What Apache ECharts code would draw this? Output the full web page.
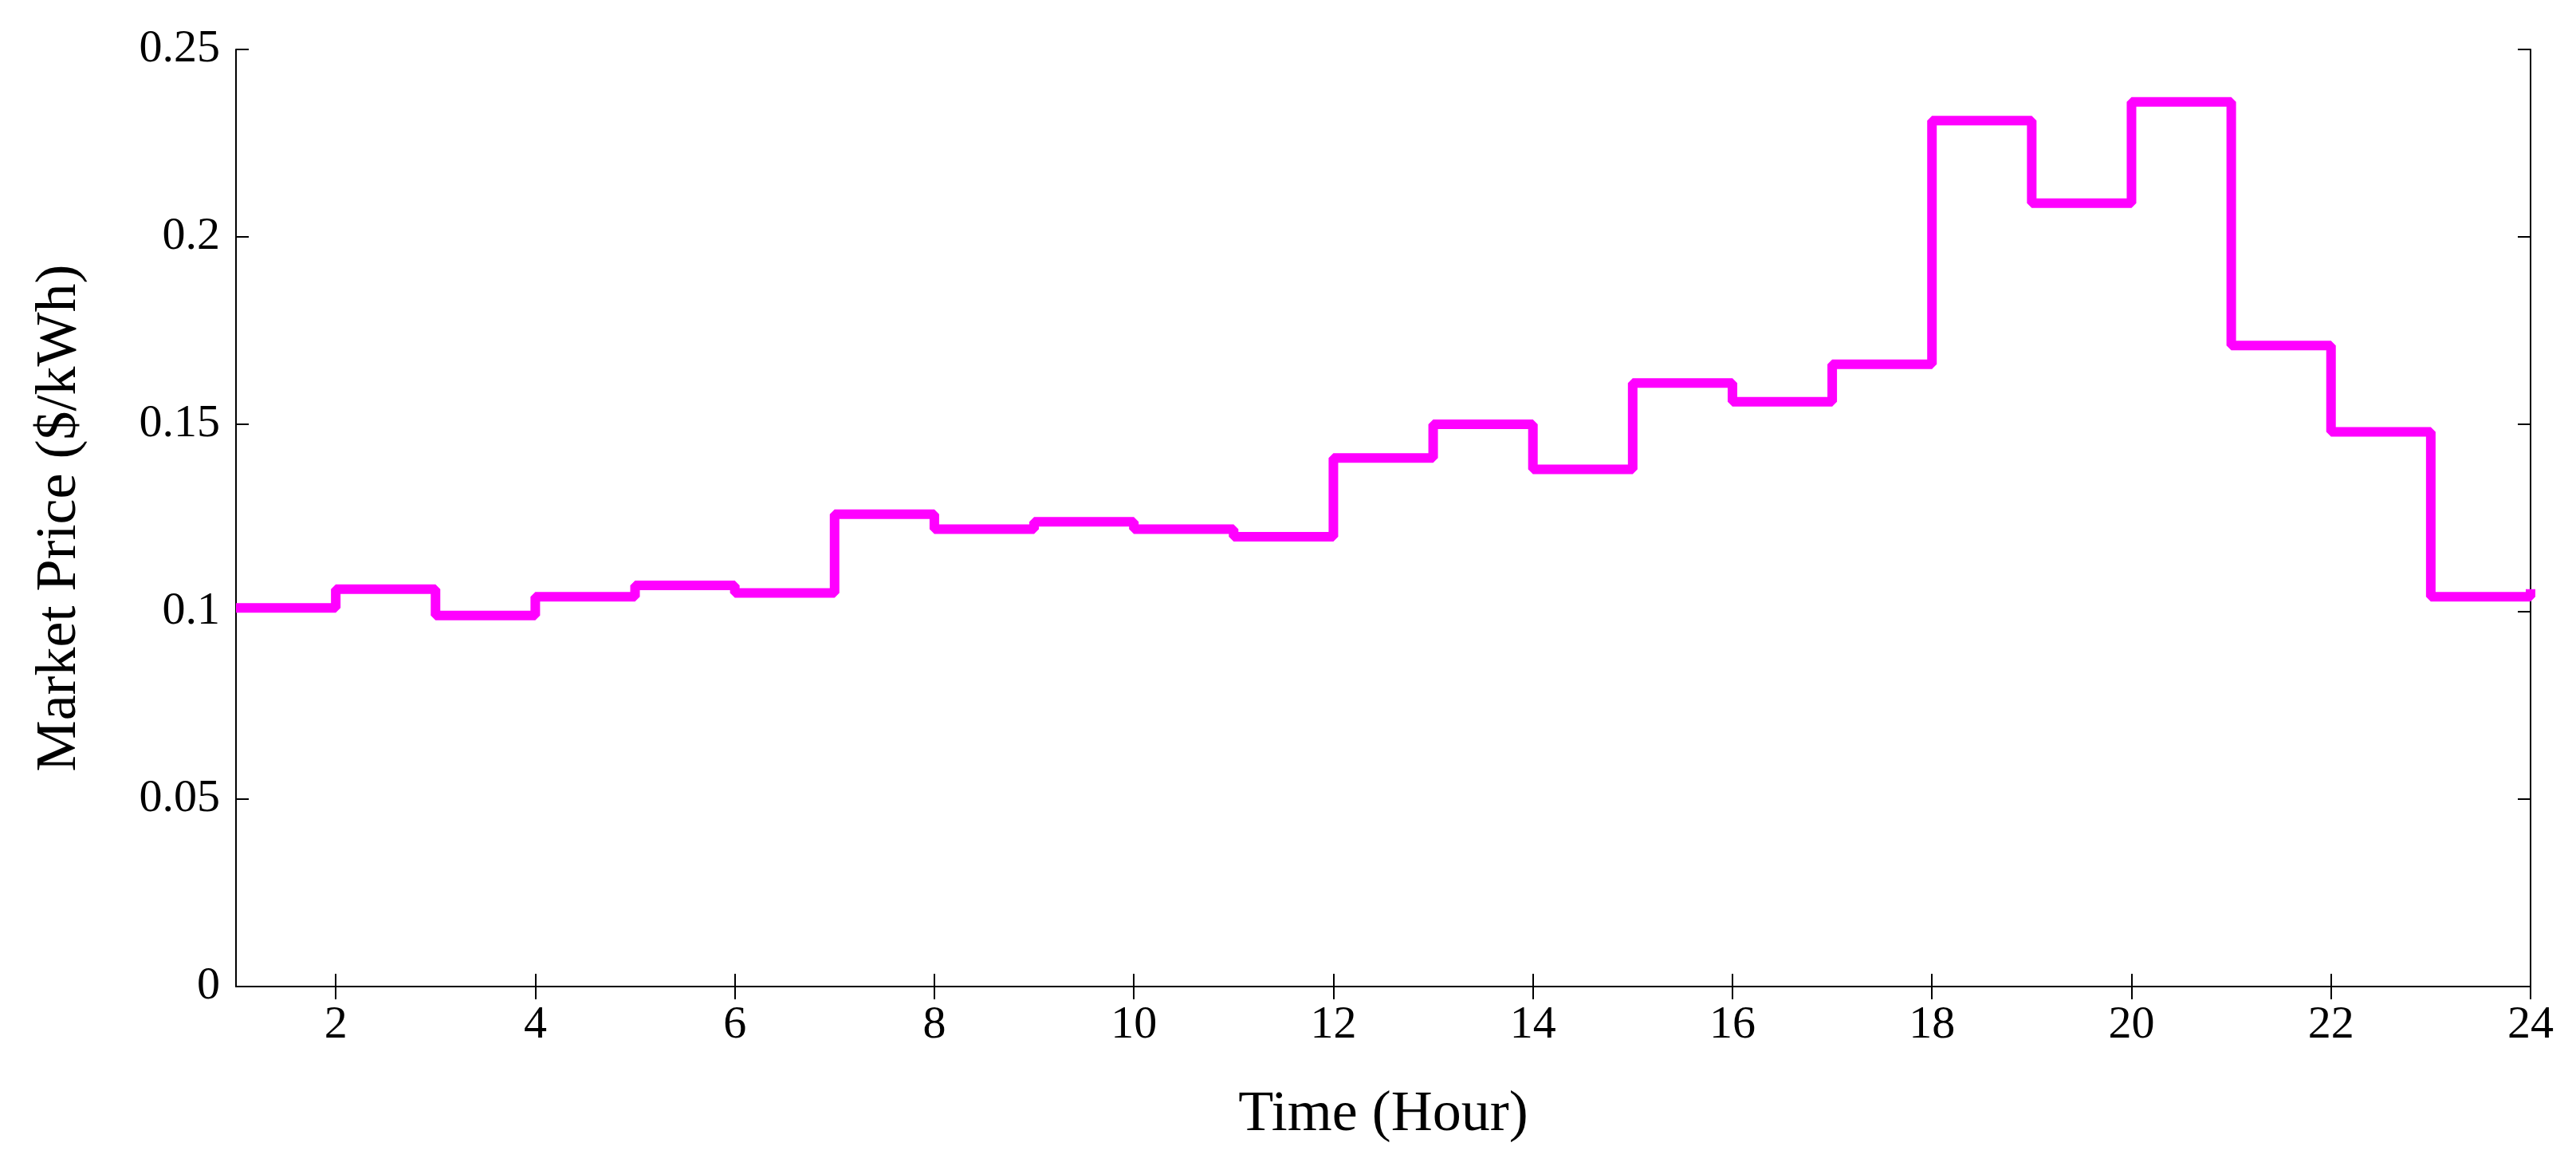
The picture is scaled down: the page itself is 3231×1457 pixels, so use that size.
<!DOCTYPE html>
<html lang="en">
<head>
	<meta charset="UTF-8">
	<title></title>
	<script src="https://cdn.jsdelivr.net/npm/echarts@6/dist/echarts.min.js"></script>
	<style>
		body{ margin:0; background:#fff; }
	</style>
</head>
<body>
	<div id="main" style="width:3231px;height:1457px;"></div>
</body>
</html>

<script type="text/javascript">
var hours = [1,2,3,4,5,6,7,8,9,10,11,12,13,14,15,16,17,18,19,20,21,22,23,24];
var price = [0.101,0.106,0.099,0.104,0.107,0.105,0.126,0.122,0.124,0.122,0.120,0.141,0.150,0.138,0.161,0.156,0.166,0.231,0.209,0.236,0.171,0.148,0.104,0.106];
var xTicks = [2,4,6,8,10,12,14,16,18,20,22,24];

var font = 'Liberation Serif';
var mychart = echarts.init(document.getElementById("main"));

var tick = { inside: true, length: 16, lineStyle: { color: '#000', width: 2 } };
var line = { lineStyle: { color: '#000', width: 2 } };

option = {
	animation: false,
	grid: { left: 296, right: 57, top: 62, bottom: 220 },
	xAxis: [
		{
			type: 'value', min: 1, max: 24,
			axisLine: line,
			axisTick: Object.assign({ customValues: xTicks }, tick),
			axisLabel: { customValues: xTicks, fontFamily: font, fontSize: 58, color: '#000', margin: 20 },
			splitLine: { show: false },
			name: 'Time (Hour)', nameLocation: 'middle', nameGap: 125,
			nameTextStyle: { fontFamily: font, fontSize: 72, color: '#000' }
		},
		{
			type: 'value', min: 1, max: 24, position: 'top',
			axisLine: line,
			axisTick: Object.assign({ customValues: xTicks }, tick),
			axisLabel: { show: false }, splitLine: { show: false }
		}
	],
	yAxis: [
		{
			type: 'value', min: 0, max: 0.25, interval: 0.05,
			axisLine: line, axisTick: tick,
			axisLabel: { fontFamily: font, fontSize: 58, color: '#000', margin: 20,
				formatter: function (v) { return String(+v.toFixed(2)); } },
			splitLine: { show: false },
			name: 'Market Price ($/kWh)', nameLocation: 'middle', nameGap: 185,
			nameTextStyle: { fontFamily: font, fontSize: 72, color: '#000' }
		},
		{
			type: 'value', min: 0, max: 0.25, interval: 0.05, position: 'right',
			axisLine: line, axisTick: tick,
			axisLabel: { show: false }, splitLine: { show: false }
		}
	],
	series: [
		{
			type: 'line', step: 'end', symbol: 'none',
			lineStyle: { color: '#ff00ff', width: 12 },
			data: hours.map(function (h, i) { return [h, price[i]]; })
		}
	]
};
mychart.setOption(option);
</script>
